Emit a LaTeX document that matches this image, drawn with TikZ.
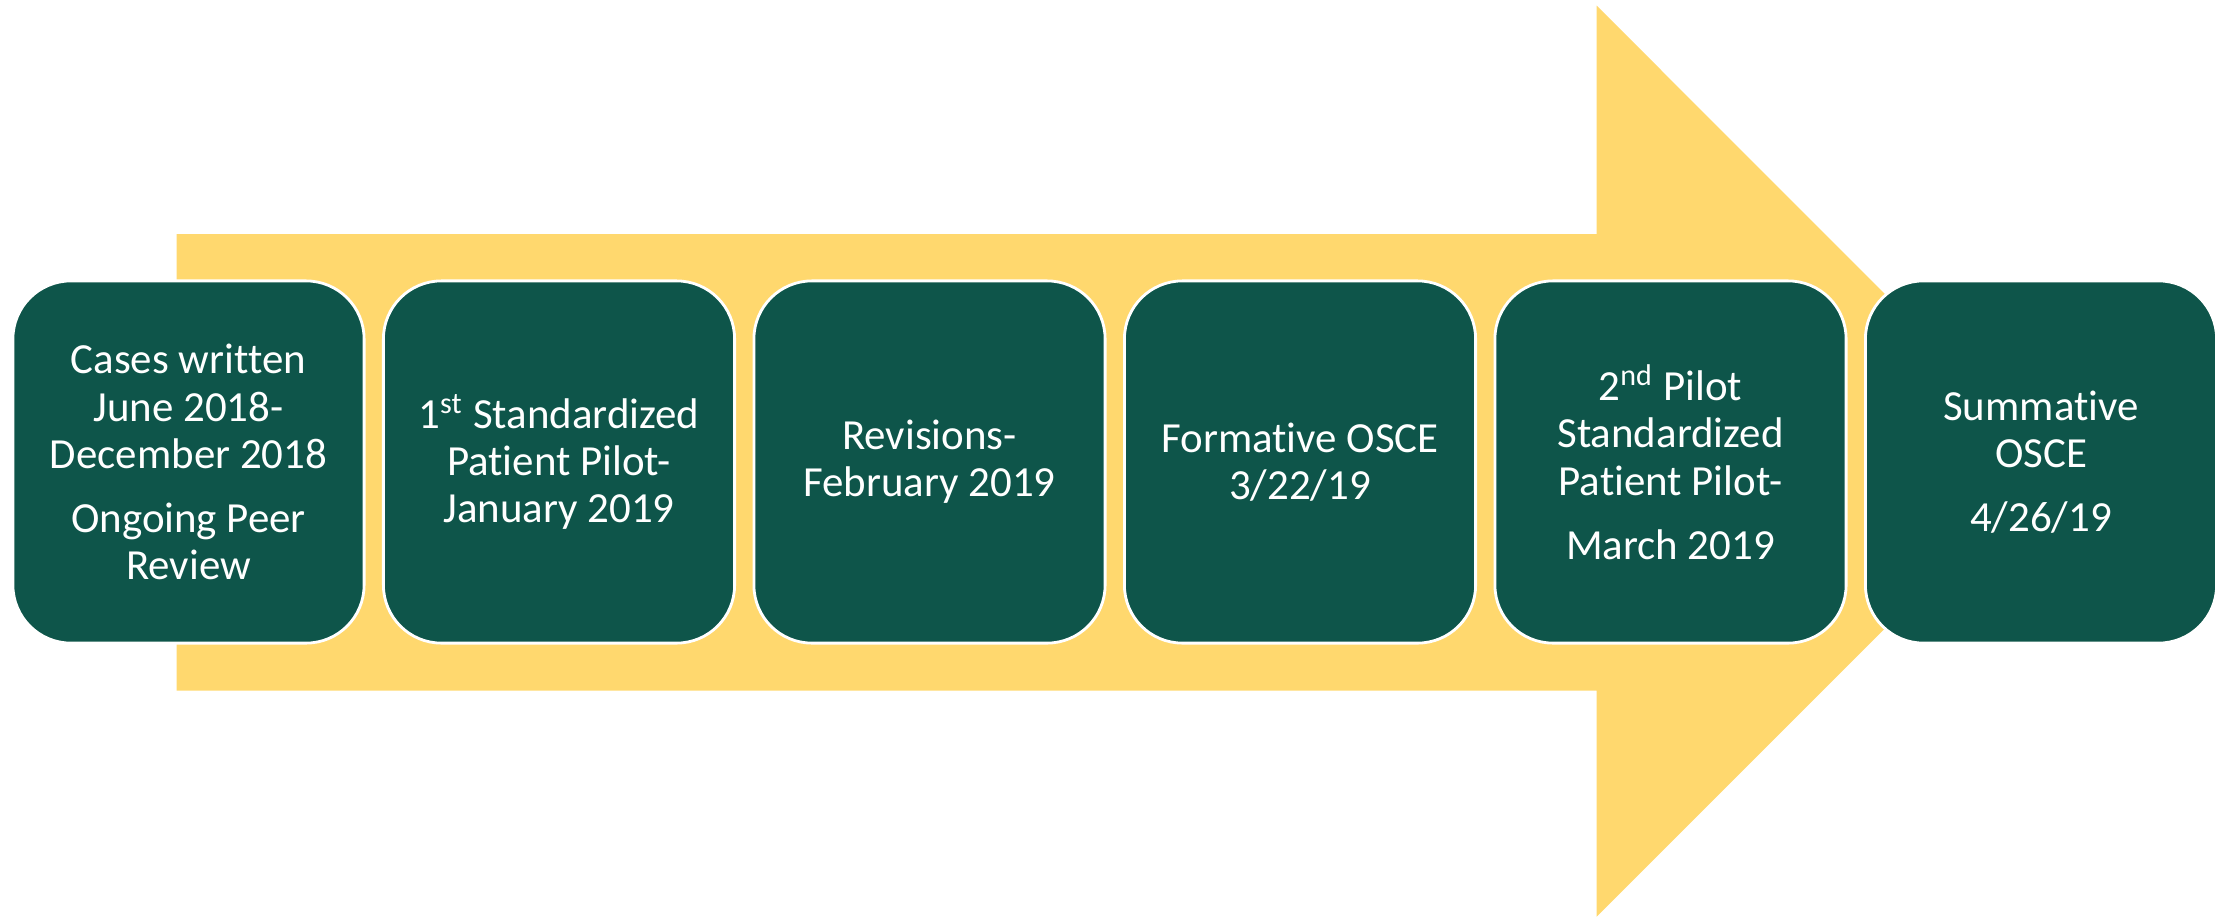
\documentclass[tikz,border=0pt]{standalone}
\usepackage{fontspec}
\setmainfont{Carlito}[Ligatures={NoCommon,NoRare,NoContextual}]
\definecolor{arrowyellow}{HTML}{FFD86E}
\definecolor{boxgreen}{HTML}{0E554A}
\newcommand{\nl}{\kern0pt}
\begin{document}
\begin{tikzpicture}[x=0.01cm,y=-0.01cm,
  stagebox/.style={draw=white, line width=0.8pt, fill=boxgreen, rounded corners=0.58cm,
    minimum width=3.51cm, minimum height=3.62cm, text=white, align=center,
    font=\fontsize{12.2}{13.4}\selectfont, inner sep=0pt}]
\useasboundingbox (0,0) rectangle (2234,918);
\fill[arrowyellow] (176.7,234) -- (1596.7,234) -- (1596.7,5.7) -- (2052,461.2)
  -- (1596.7,916.7) -- (1596.7,690.7) -- (176.7,690.7) -- cycle;
\node[stagebox] (s1) at (188.5,462) {Cases writ\nl ten\\June 2018-\\December 2018\\[4.8pt]Ongoing Peer\\Review};
\node[stagebox] (s2) at (559,462) {1\textsuperscript{st} Standardized\\Pat\nl ient Pilot-\\January 2019};
\node[stagebox] (s3) at (929.5,462) {Revisions-\\February 2019};
\node[stagebox] (s4) at (1300,462) {Format\nl ive OSCE\\3/22/19};
\node[stagebox] (s5) at (1670.5,462) {2\textsuperscript{nd} Pilot\\Standardized\\Pat\nl ient Pilot-\\[4.8pt]March 2019};
\node[stagebox] (s6) at (2041,462) {Summat\nl ive\\OSCE\\[4.8pt]4/26/19};
\end{tikzpicture}
\end{document}
